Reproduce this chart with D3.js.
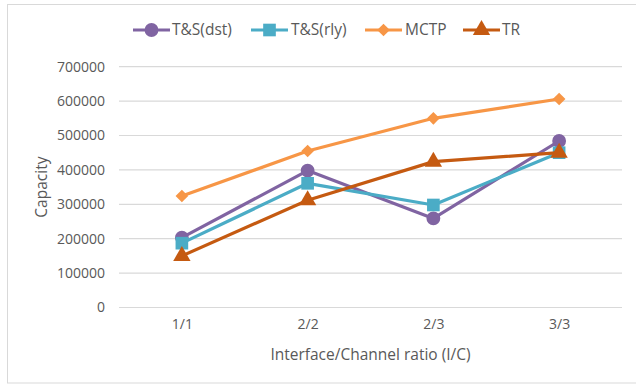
<!DOCTYPE html>
<html>
<head>
<meta charset="utf-8">
<script src="https://cdn.jsdelivr.net/npm/d3@7"></script>
<style>
  html, body { margin: 0; padding: 0; background: #fff; }
  svg { display: block; }
  text { font-family: "Open Sans", "Noto Sans", sans-serif; fill: #595959; }
</style>
</head>
<body>
<svg id="chart" width="636" height="386"></svg>
<script>
// Capacity by interface/channel ratio for each scheme
const categories = ["1/1", "2/2", "2/3", "3/3"];
const tsDst = [203000, 398000, 259000, 484000];
const tsRly = [187000, 361000, 298000, 450000];
const mctp = [324000, 455000, 550000, 606000];
const tr = [150000, 312000, 424000, 450000];
const yTicks = [0, 100000, 200000, 300000, 400000, 500000, 600000, 700000];

// square diamond marker (equal width and height)
const symbolRhombus = {
  draw(context, size) {
    const r = Math.sqrt(size / 2);
    context.moveTo(0, -r);
    context.lineTo(r, 0);
    context.lineTo(0, r);
    context.lineTo(-r, 0);
    context.closePath();
  }
};

const series = [
  { name: "T&S(dst)", values: tsDst, color: "#8064A2", shape: d3.symbolCircle, size: 150 },
  { name: "T&S(rly)", values: tsRly, color: "#4BACC6", shape: d3.symbolSquare, size: 160 },
  { name: "MCTP", values: mctp, color: "#F79646", shape: symbolRhombus, size: 80 },
  { name: "TR", values: tr, color: "#C55A11", shape: d3.symbolTriangle, size: 130 }
];

const svg = d3.select("#chart");
const W = 636, H = 386;
const margin = { left: 119, right: 14, top: 66.7, bottom: 78.5 };

// chart frame
svg.append("rect")
  .attr("x", 7.5).attr("y", 4.5)
  .attr("width", W + 10).attr("height", 378.5)
  .attr("fill", "#fff").attr("stroke", "#d9d9d9").attr("stroke-width", 1);

const x = d3.scalePoint()
  .domain(categories)
  .range([margin.left, W - margin.right])
  .padding(0.5);

const y = d3.scaleLinear()
  .domain([0, 700000])
  .range([H - margin.bottom, margin.top]);

// horizontal gridlines
svg.append("g")
  .selectAll("line")
  .data(yTicks)
  .join("line")
  .attr("x1", margin.left).attr("x2", W - margin.right)
  .attr("y1", d => y(d)).attr("y2", d => y(d))
  .attr("stroke", "#d9d9d9").attr("stroke-width", 1.2);

// y axis labels
const yAxis = svg.append("g")
  .attr("transform", `translate(${margin.left - 14},0)`)
  .call(d3.axisLeft(y).tickValues(yTicks).tickSize(0).tickPadding(0).tickFormat(d3.format("d")));
yAxis.select(".domain").remove();
yAxis.selectAll("text")
  .style("font-family", '"Open Sans", sans-serif')
  .style("font-size", "14px")
  .attr("fill", "#595959");

// x axis labels
const xAxis = svg.append("g")
  .attr("transform", `translate(0,${H - margin.bottom + 12})`)
  .call(d3.axisBottom(x).tickSize(0).tickPadding(0));
xAxis.select(".domain").remove();
xAxis.selectAll("text")
  .style("font-family", '"Open Sans", sans-serif')
  .style("font-size", "14px")
  .attr("fill", "#595959");

// axis titles
svg.append("text")
  .attr("x", (margin.left + W - margin.right) / 2)
  .attr("y", 360)
  .attr("text-anchor", "middle")
  .style("font-size", "15.5px")
  .text("Interface/Channel ratio (I/C)");

svg.append("text")
  .attr("transform", `translate(47,${(margin.top + H - margin.bottom) / 2}) rotate(-90)`)
  .attr("text-anchor", "middle")
  .style("font-size", "15.5px")
  .text("Capacity");

// series lines and markers
const line = d3.line()
  .x((d, i) => x(categories[i]))
  .y(d => y(d));

const g = svg.append("g");
series.forEach(s => {
  g.append("path")
    .datum(s.values)
    .attr("fill", "none")
    .attr("stroke", s.color)
    .attr("stroke-width", 3.2)
    .attr("stroke-linejoin", "round")
    .attr("d", line);
  g.selectAll(null)
    .data(s.values)
    .join("path")
    .attr("transform", (d, i) => `translate(${x(categories[i])},${y(d)})`)
    .attr("d", d3.symbol().type(s.shape).size(s.size))
    .attr("fill", s.color);
});

// legend
const legendItems = [
  { x: 133, textX: 172 },
  { x: 251, textX: 291 },
  { x: 365, textX: 405 },
  { x: 463, textX: 502 }
];
const legend = svg.append("g");
series.forEach((s, i) => {
  const lx = legendItems[i].x, ly = 30;
  legend.append("line")
    .attr("x1", lx).attr("x2", lx + 37)
    .attr("y1", ly).attr("y2", ly)
    .attr("stroke", s.color).attr("stroke-width", 3.2);
  legend.append("path")
    .attr("transform", `translate(${lx + 18.5},${ly})`)
    .attr("d", d3.symbol().type(s.shape).size(s.size))
    .attr("fill", s.color);
  legend.append("text")
    .attr("x", legendItems[i].textX)
    .attr("y", ly)
    .attr("dy", "0.35em")
    .style("font-size", "15.5px")
    .text(s.name);
});
</script>
</body>
</html>
